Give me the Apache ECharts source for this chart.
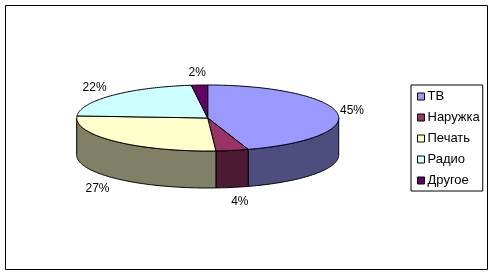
<!DOCTYPE html>
<html><head><meta charset="utf-8">
<script src="https://cdn.jsdelivr.net/npm/echarts@6/dist/echarts.min.js"></script>
<style>html,body{margin:0;padding:0;background:#fff}#c{width:493px;height:276px}</style>
</head><body><div id="c"></div>
<script>
const categories = ['ТВ', 'Наружка', 'Печать', 'Радио', 'Другое'];
const shares = [45, 4, 27, 22, 2];
const topColors = ['#9999FF', '#993366', '#FFFFCC', '#CCFFFF', '#660066'];
const sideColors = ['#4D4D80', '#4D1A33', '#808066', '#668080', '#330033'];

const total = shares.reduce((a, b) => a + b, 0);
const L = { cx: 207.7, cy: 118, rx: 131, ry: 33, depth: 37 };
const FONT = '"Liberation Sans", Arial, sans-serif';

function pt(deg, dy) {
  const r = deg * Math.PI / 180;
  return [L.cx + L.rx * Math.sin(r), L.cy - L.ry * Math.cos(r) + (dy || 0)];
}
function arc(a1, a2, dy) {
  const pts = [];
  const n = Math.max(2, Math.ceil(Math.abs(a2 - a1)));
  for (let k = 0; k <= n; k++) pts.push(pt(a1 + (a2 - a1) * k / n, dy));
  return pts;
}

function renderItem(params, api) {
  const i = params.seriesIndex;
  let before = 0;
  for (let k = 0; k < i; k++) before += shares[k];
  const v = api.value(0);
  const a1 = before / total * 360, a2 = (before + v) / total * 360;
  const children = [];
  const b1 = Math.max(a1, 90), b2 = Math.min(a2, 270);
  if (b2 > b1) {
    const pts = arc(b1, b2, 0).concat(arc(b2, b1, L.depth));
    children.push({ type: 'polygon', shape: { points: pts },
      style: { fill: sideColors[i], stroke: '#000', lineWidth: 1 } });
  }
  const top = [[L.cx, L.cy]].concat(arc(a1, a2, 0));
  children.push({ type: 'polygon', shape: { points: top },
    style: { fill: topColors[i], stroke: '#000', lineWidth: 1 } });
  const mid = (a1 + a2) / 2 * Math.PI / 180;
  const s = Math.sin(mid), c = Math.cos(mid);
  const lx = L.cx + (L.rx + 5) * s - (Math.abs(s) > 0.15 ? 2 : 2);
  const ly = L.cy - (L.ry + 12) * c + (c < 0 ? L.depth + 2 : 0);
  children.push({ type: 'text', x: lx, y: ly,
    style: { text: Math.round(v / total * 100) + '%', fill: '#000',
      font: '12px ' + FONT,
      align: s > 0.15 ? 'left' : (s < -0.15 ? 'right' : 'center'),
      verticalAlign: 'middle' } });
  return { type: 'group', children: children };
}

const chart = echarts.init(document.getElementById('c'), null, { renderer: 'canvas' });
chart.setOption({
  backgroundColor: '#fff',
  animation: false,
  graphic: [{ type: 'rect', shape: { x: 5.5, y: 5.5, width: 482, height: 264 },
    style: { fill: 'none', stroke: '#000', lineWidth: 1 }, silent: true }],
  legend: {
    orient: 'vertical', left: 411, top: 85,
    padding: [5, 3, 4, 6], itemGap: 8,
    itemWidth: 7, itemHeight: 7, icon: 'rect',
    borderColor: '#000', borderWidth: 1,
    itemStyle: { borderColor: '#000', borderWidth: 1 },
    textStyle: { fontFamily: FONT, fontSize: 13, color: '#000', padding: [0, 0, 0, -2] },
    data: categories
  },
  series: categories.map((name, i) => ({
    type: 'custom', name: name, coordinateSystem: 'none',
    itemStyle: { color: topColors[i] },
    renderItem: renderItem,
    data: [[shares[i]]]
  }))
});
</script></body></html>
